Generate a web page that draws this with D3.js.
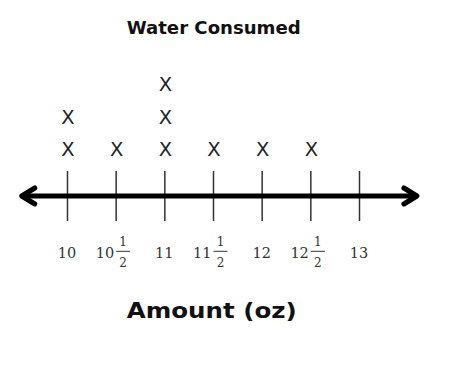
<!DOCTYPE html>
<html>
<head>
<meta charset="utf-8">
<script src="https://cdn.jsdelivr.net/npm/d3@7"></script>
<style>
  html, body { margin: 0; padding: 0; background: #fff; }
  svg { display: block; }
</style>
</head>
<body>
<div id="chart"></div>
<script>
// ---- data ----
const values = [10, 10.5, 11, 11.5, 12, 12.5, 13];
const counts = [2, 1, 3, 1, 1, 1, 0];
const tickWhole = ["10", "10", "11", "11", "12", "12", "13"];
const tickFrac = [null, ["1", "2"], null, ["1", "2"], null, ["1", "2"], null];
const title = "Water Consumed";
const axisTitle = "Amount (oz)";
const axisExtent = [9.525, 13.605];

// ---- layout ----
const W = 458, H = 374;
const svg = d3.select("#chart").append("svg")
  .attr("width", W).attr("height", H);

const x = d3.scaleLinear().domain([10, 13]).range([67, 359]);
const y = d3.scaleLinear().domain([1, 3]).range([149.5, 84]);
const lineY = 196;

// title
svg.append("text")
  .attr("x", 213.7).attr("y", 34)
  .attr("text-anchor", "middle")
  .attr("font-family", "'DejaVu Sans', sans-serif")
  .attr("font-weight", "bold")
  .attr("font-size", 18)
  .attr("textLength", 174).attr("lengthAdjust", "spacingAndGlyphs")
  .attr("fill", "#111")
  .text(title);

// ticks via d3 axis
const axis = d3.axisBottom(x)
  .tickValues(values)
  .tickSize(50)
  .tickSizeOuter(0)
  .tickFormat("");
const gAxis = svg.append("g")
  .attr("transform", `translate(0,${lineY - 25})`)
  .call(axis);
gAxis.select(".domain").remove();
gAxis.selectAll(".tick line")
  .attr("stroke", "#333")
  .attr("stroke-width", 1.5);

// main number line with arrows
const x0 = x(axisExtent[0]), x1 = x(axisExtent[1]);
svg.append("line")
  .attr("x1", x0 + 1).attr("x2", x1 - 1)
  .attr("y1", lineY).attr("y2", lineY)
  .attr("stroke", "#000").attr("stroke-width", 5);
svg.append("path")
  .attr("d", `M${x0 + 14},${lineY - 8} L${x0 + 1},${lineY} L${x0 + 14},${lineY + 8}`)
  .attr("fill", "none").attr("stroke", "#000").attr("stroke-width", 5)
  .attr("stroke-linecap", "round").attr("stroke-linejoin", "round");
svg.append("path")
  .attr("d", `M${x1 - 14},${lineY - 8} L${x1 - 1},${lineY} L${x1 - 14},${lineY + 8}`)
  .attr("fill", "none").attr("stroke", "#000").attr("stroke-width", 5)
  .attr("stroke-linecap", "round").attr("stroke-linejoin", "round");

// X marks
const marks = [];
values.forEach((v, i) => {
  for (let k = 1; k <= counts[i]; k++) marks.push({ v, k });
});
svg.append("g").selectAll("text")
  .data(marks)
  .join("text")
  .attr("x", d => x(d.v) + 1)
  .attr("y", d => y(d.k))
  .attr("dy", "0.35em")
  .attr("text-anchor", "middle")
  .attr("font-family", "'DejaVu Sans', sans-serif")
  .attr("font-size", 19.5)
  .attr("fill", "#222")
  .text("X");

// tick labels
const serif = "'DejaVu Serif', 'Liberation Serif', serif";
const gLab = svg.append("g");
values.forEach((v, i) => {
  const cx = x(v);
  if (!tickFrac[i]) {
    gLab.append("text")
      .attr("x", cx).attr("y", 257.5)
      .attr("text-anchor", "middle")
      .attr("font-family", serif).attr("font-size", 14.5)
      .attr("fill", "#333")
      .text(tickWhole[i]);
  } else {
    gLab.append("text")
      .attr("x", cx - 1.5).attr("y", 257.5)
      .attr("text-anchor", "end")
      .attr("font-family", serif).attr("font-size", 14.5)
      .attr("fill", "#333")
      .text(tickWhole[i]);
    const fx = cx + 7.5;
    gLab.append("text")
      .attr("x", fx).attr("y", 246)
      .attr("text-anchor", "middle")
      .attr("font-family", serif).attr("font-size", 12)
      .attr("fill", "#333")
      .text(tickFrac[i][0]);
    gLab.append("line")
      .attr("x1", fx - 7).attr("x2", fx + 7)
      .attr("y1", 251.3).attr("y2", 251.3)
      .attr("stroke", "#333").attr("stroke-width", 1);
    gLab.append("text")
      .attr("x", fx).attr("y", 266.5)
      .attr("text-anchor", "middle")
      .attr("font-family", serif).attr("font-size", 12)
      .attr("fill", "#333")
      .text(tickFrac[i][1]);
  }
});

// axis title
svg.append("text")
  .attr("x", 211.7).attr("y", 317.5)
  .attr("text-anchor", "middle")
  .attr("font-family", "'DejaVu Sans', sans-serif")
  .attr("font-weight", "bold")
  .attr("font-size", 22)
  .attr("textLength", 170).attr("lengthAdjust", "spacingAndGlyphs")
  .attr("fill", "#111")
  .text(axisTitle);
</script>
</body>
</html>
